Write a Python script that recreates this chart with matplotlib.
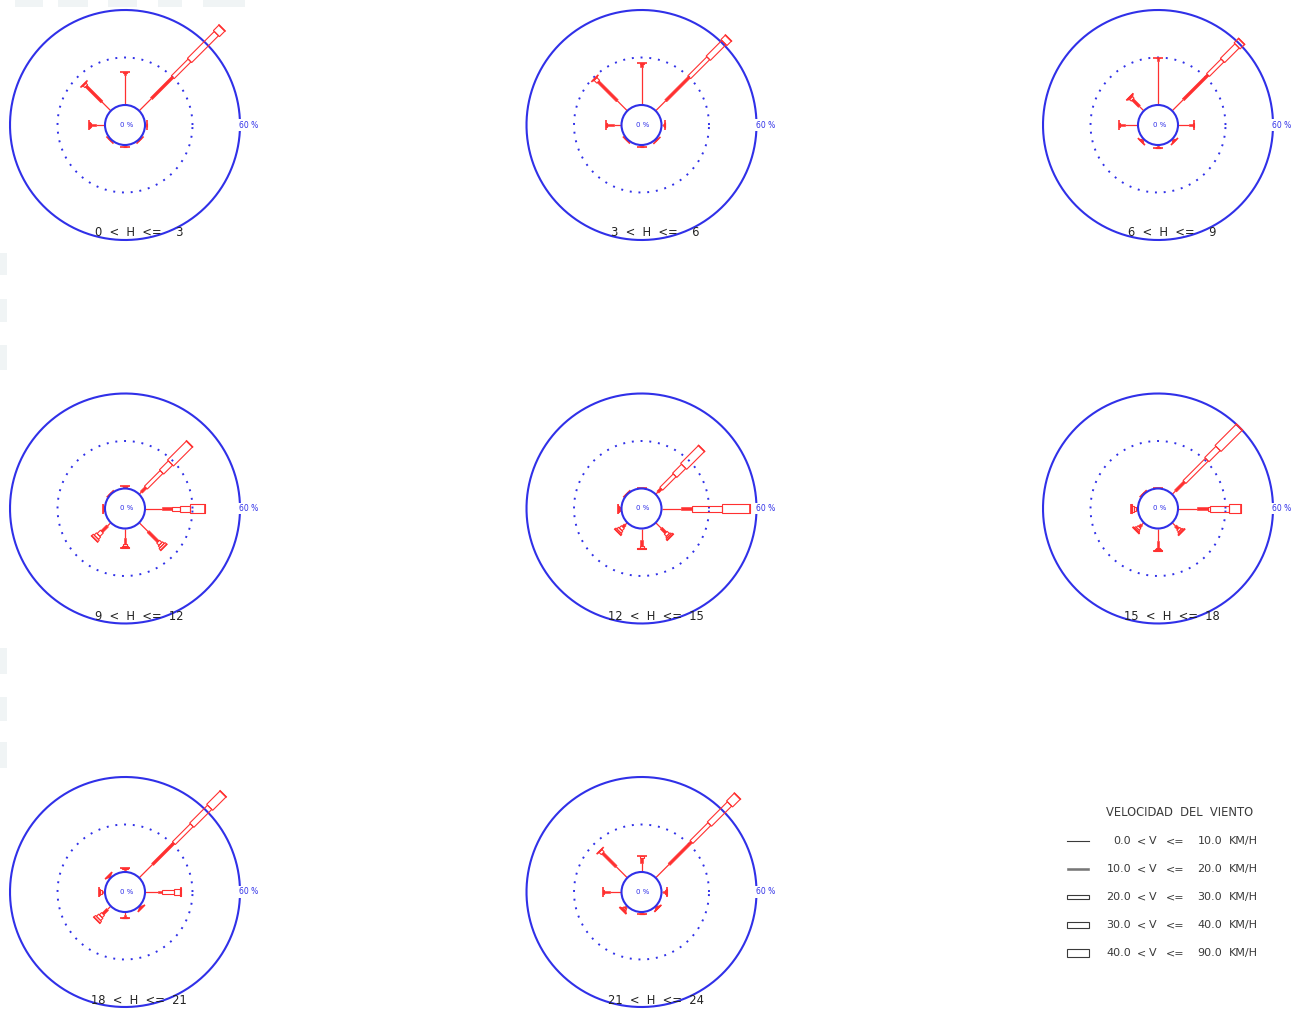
import numpy as np
import matplotlib
matplotlib.use("Agg")
import matplotlib.pyplot as plt
from matplotlib.patches import Polygon, Circle, Rectangle

FIG_W, FIG_H, DPI = 1298, 1010, 100

# compass bearings of the eight sectors: N, NE, E, SE, S, SW, W, NW
direction_deg = [0, 45, 90, 135, 180, 225, 270, 315]

# wind speed classes (km/h)
speed_low = [0.0, 10.0, 20.0, 30.0, 40.0]
speed_high = [10.0, 20.0, 30.0, 40.0, 90.0]

# hour windows
hour_low = [0, 3, 6, 9, 12, 15, 18, 21]
hour_high = [3, 6, 9, 12, 15, 18, 21, 24]

# frequency (%) -- rows: N, NE, E, SE, S, SW, W, NW ; columns: speed classes
freq_h00_03 = [
    [19.0, 1.5, 0.5, 0.0, 0.0],
    [11.0, 19.0, 15.0, 24.0, 5.0],
    [0.6, 0.4, 0.3, 0.0, 0.0],
    [0.3, 0.3, 0.2, 0.0, 0.0],
    [0.6, 0.5, 0.3, 0.0, 0.0],
    [0.3, 0.3, 0.2, 0.0, 0.0],
    [6.0, 3.0, 0.6, 0.2, 0.0],
    [8.0, 14.0, 1.5, 0.5, 0.0],
]
freq_h03_06 = [
    [24.0, 2.0, 0.5, 0.0, 0.0],
    [9.0, 21.0, 17.0, 14.0, 4.0],
    [1.2, 0.6, 0.4, 0.2, 0.0],
    [0.5, 0.4, 0.2, 0.0, 0.0],
    [0.6, 0.5, 0.3, 0.0, 0.0],
    [0.3, 0.3, 0.2, 0.0, 0.0],
    [5.0, 4.0, 0.6, 0.0, 0.0],
    [9.0, 17.0, 2.5, 0.5, 0.0],
]
freq_h06_09 = [
    [28.0, 1.5, 0.5, 0.0, 0.0],
    [10.0, 22.0, 13.0, 13.0, 4.0],
    [7.0, 2.5, 0.5, 0.0, 0.0],
    [0.8, 0.6, 0.5, 0.2, 0.0],
    [0.8, 0.6, 0.4, 0.2, 0.0],
    [0.8, 0.6, 0.5, 0.3, 0.0],
    [8.0, 3.5, 0.5, 0.0, 0.0],
    [4.0, 6.0, 1.5, 0.8, 0.2],
]
freq_h09_12 = [
    [0.6, 0.5, 0.3, 0.1, 0.0],
    [2.0, 4.0, 14.0, 8.0, 17.0],
    [11.0, 6.0, 5.0, 6.5, 9.5],
    [8.0, 9.0, 2.0, 1.5, 1.5],
    [6.0, 4.0, 1.0, 0.5, 0.5],
    [3.0, 5.0, 3.0, 2.0, 1.5],
    [0.4, 0.4, 0.3, 0.2, 0.1],
    [0.2, 0.2, 0.1, 0.0, 0.0],
]
freq_h12_15 = [
    [0.2, 0.1, 0.1, 0.0, 0.0],
    [2.0, 3.0, 12.0, 8.0, 16.0],
    [12.0, 7.0, 0.5, 19.0, 17.5],
    [5.0, 4.0, 2.0, 1.0, 1.0],
    [7.0, 4.0, 1.0, 0.5, 0.3],
    [2.0, 2.0, 2.0, 1.5, 1.0],
    [0.5, 0.5, 0.5, 0.5, 0.5],
    [0.2, 0.2, 0.1, 0.0, 0.0],
]
freq_h15_18 = [
    [0.2, 0.1, 0.1, 0.0, 0.0],
    [3.0, 8.0, 20.0, 10.0, 19.0],
    [12.0, 7.0, 1.0, 12.0, 8.0],
    [3.0, 2.5, 1.5, 1.0, 0.5],
    [8.0, 4.0, 1.0, 0.5, 0.5],
    [2.0, 2.0, 1.5, 1.0, 0.5],
    [0.5, 1.0, 1.0, 1.0, 1.0],
    [0.3, 0.2, 0.1, 0.0, 0.0],
]
freq_h18_21 = [
    [1.0, 0.8, 0.4, 0.2, 0.1],
    [12.0, 19.0, 16.0, 16.0, 12.0],
    [8.0, 3.0, 7.0, 4.0, 1.0],
    [0.6, 0.5, 0.4, 0.3, 0.2],
    [2.0, 1.0, 0.5, 0.3, 0.2],
    [3.0, 4.0, 2.0, 2.0, 1.5],
    [1.0, 1.0, 1.0, 0.6, 0.4],
    [0.6, 0.5, 0.4, 0.3, 0.2],
]
freq_h21_24 = [
    [6.0, 3.0, 1.0, 0.0, 0.0],
    [12.0, 20.0, 16.0, 18.0, 7.0],
    [1.0, 1.0, 1.0, 0.5, 0.0],
    [0.6, 0.6, 0.4, 0.3, 0.1],
    [0.6, 0.4, 0.3, 0.2, 0.0],
    [1.0, 1.0, 1.0, 0.5, 0.5],
    [7.0, 4.0, 1.0, 0.0, 0.0],
    [10.0, 12.0, 2.0, 0.3, 0.0],
]

roses = [freq_h00_03, freq_h03_06, freq_h06_09, freq_h09_12,
         freq_h12_15, freq_h15_18, freq_h18_21, freq_h21_24]

# ---- geometry / style -------------------------------------------------
RING_MAX = 60.0             # solid outer ring (%)
RING_MID = 30.0             # dotted ring (%)
PX = 95.0 / 60.0            # screen pixels per percent
HOLE = 20.0 / PX            # radius of the calm circle, in % units
RED = "#ff3030"
BLUE = "#3030e8"
INK = "#3a3a3a"
seg_w_px = [1.0, 2.8, 4.0, 6.0, 8.5]   # drawn width of each speed class
cap_px = 10.0

col_x = [125.0, 641.5, 1158.0]
row_y = [125.0, 508.5, 892.0]
AX_HALF = 165.0             # half size of each rose panel (px)

fig = plt.figure(figsize=(FIG_W / DPI, FIG_H / DPI), dpi=DPI)
fig.patch.set_facecolor("white")

# faint scan blocks along the top and left margins
bg = fig.add_axes([0, 0, 1, 1], zorder=-5)
bg.set_xlim(0, FIG_W)
bg.set_ylim(FIG_H, 0)
bg.axis("off")
for (x, y, w, h) in [(15, 0, 28, 7), (58, 0, 30, 7), (108, 0, 29, 7),
                     (158, 0, 24, 7), (203, 0, 42, 7),
                     (0, 253, 7, 22), (0, 299, 7, 23), (0, 345, 7, 25),
                     (0, 648, 7, 26), (0, 697, 7, 24), (0, 742, 7, 26)]:
    bg.add_patch(Rectangle((x, y), w, h, facecolor="#f0f4f5",
                           edgecolor="none"))


def strip(ax, theta, r0, r1, width, **kw):
    ux, uy = np.sin(theta), np.cos(theta)
    nx, ny = np.cos(theta), -np.sin(theta)
    h = width / 2.0
    pts = [(ux * r0 + nx * h, uy * r0 + ny * h),
           (ux * r1 + nx * h, uy * r1 + ny * h),
           (ux * r1 - nx * h, uy * r1 - ny * h),
           (ux * r0 - nx * h, uy * r0 - ny * h)]
    ax.add_patch(Polygon(pts, closed=True, **kw))


def draw_rose(ax, freq, label):
    t = np.linspace(0, 2 * np.pi, 400)
    ax.plot((HOLE + RING_MAX) * np.cos(t), (HOLE + RING_MAX) * np.sin(t),
            color=BLUE, lw=1.5, zorder=2)
    ax.plot((HOLE + RING_MID) * np.cos(t), (HOLE + RING_MID) * np.sin(t),
            color=BLUE, lw=1.4, ls=(0, (1, 3.5)), zorder=2)
    ax.add_patch(Circle((0, 0), HOLE, facecolor="white", edgecolor=BLUE,
                        lw=1.5, zorder=4))
    ax.text(0.8, 0, "0 %", color=BLUE, fontsize=5, ha="center",
            va="center", zorder=5)
    ax.text(HOLE + RING_MAX + 5.5, 0, "60 %", color=BLUE, fontsize=5.5,
            ha="center", va="center", zorder=6,
            bbox=dict(facecolor="white", edgecolor="none", pad=1.0))
    ax.text(14.0 / PX, -108.0 / PX, label, color="#222222", fontsize=8.3,
            ha="center", va="center", zorder=6)

    for ang, vals in zip(direction_deg, freq):
        th = np.deg2rad(ang)
        ux, uy = np.sin(th), np.cos(th)
        nx, ny = np.cos(th), -np.sin(th)
        r = HOLE
        for k, v in enumerate(vals):
            if v <= 0:
                continue
            r1 = r + v
            w = seg_w_px[k] / PX
            if k == 0:
                ax.plot([ux * r, ux * r1], [uy * r, uy * r1], color=RED,
                        lw=0.9, solid_capstyle="butt", zorder=3)
            elif k == 1:
                strip(ax, th, r, r1, w, facecolor=RED, edgecolor=RED,
                      lw=0.4, zorder=3)
            else:
                strip(ax, th, r, r1, w, facecolor="none", edgecolor=RED,
                      lw=0.8, zorder=3)
            r = r1
        if r > HOLE:
            c = cap_px / PX / 2.0
            ax.plot([ux * r + nx * c, ux * r - nx * c],
                    [uy * r + ny * c, uy * r - ny * c],
                    color=RED, lw=1.2, solid_capstyle="butt", zorder=3)


for i, freq in enumerate(roses):
    cx, cy = col_x[i % 3], row_y[i // 3]
    ax = fig.add_axes([(cx - AX_HALF) / FIG_W, (FIG_H - cy - AX_HALF) / FIG_H,
                       2 * AX_HALF / FIG_W, 2 * AX_HALF / FIG_H])
    lim = AX_HALF / PX
    ax.set_xlim(-lim, lim)
    ax.set_ylim(-lim, lim)
    ax.axis("off")
    hi = str(hour_high[i])
    lab = f"{hour_low[i]}  <  H  <=  " + ("  " if len(hi) == 1 else "") + hi
    draw_rose(ax, freq, lab)

# ---- legend -------------------------------------------------------------
lg = fig.add_axes([1040 / FIG_W, (FIG_H - 985) / FIG_H,
                   258 / FIG_W, 200 / FIG_H])
lg.set_xlim(1040, 1298)
lg.set_ylim(985, 785)
lg.axis("off")
FS = 8.0
lg.text(1180, 812, "VELOCIDAD  DEL  VIENTO", color=INK, fontsize=FS + 0.3,
        ha="center", va="center")
row_ys = [841, 869, 897, 925, 953]
for k in range(5):
    y = row_ys[k]
    if k == 0:
        lg.plot([1067, 1089], [y, y], color=INK, lw=0.8)
    elif k == 1:
        lg.add_patch(Rectangle((1067, y - seg_w_px[k] / 2), 22, seg_w_px[k],
                               facecolor="#777777", edgecolor="#777777",
                               lw=0.4))
    else:
        lg.add_patch(Rectangle((1067, y - seg_w_px[k] / 2), 22, seg_w_px[k],
                               facecolor="none", edgecolor=INK, lw=0.8))
    lg.text(1131, y, f"{speed_low[k]:.1f}", color=INK, fontsize=FS,
            ha="right", va="center")
    lg.text(1141, y, "<", color=INK, fontsize=FS, ha="center", va="center")
    lg.text(1153, y, "V", color=INK, fontsize=FS, ha="center", va="center")
    lg.text(1175, y, "<=", color=INK, fontsize=FS, ha="center", va="center")
    lg.text(1222, y, f"{speed_high[k]:.1f}", color=INK, fontsize=FS,
            ha="right", va="center")
    lg.text(1229, y, "KM/H", color=INK, fontsize=FS,
            ha="left", va="center")

fig.savefig("out.png", dpi=DPI, facecolor="white")
